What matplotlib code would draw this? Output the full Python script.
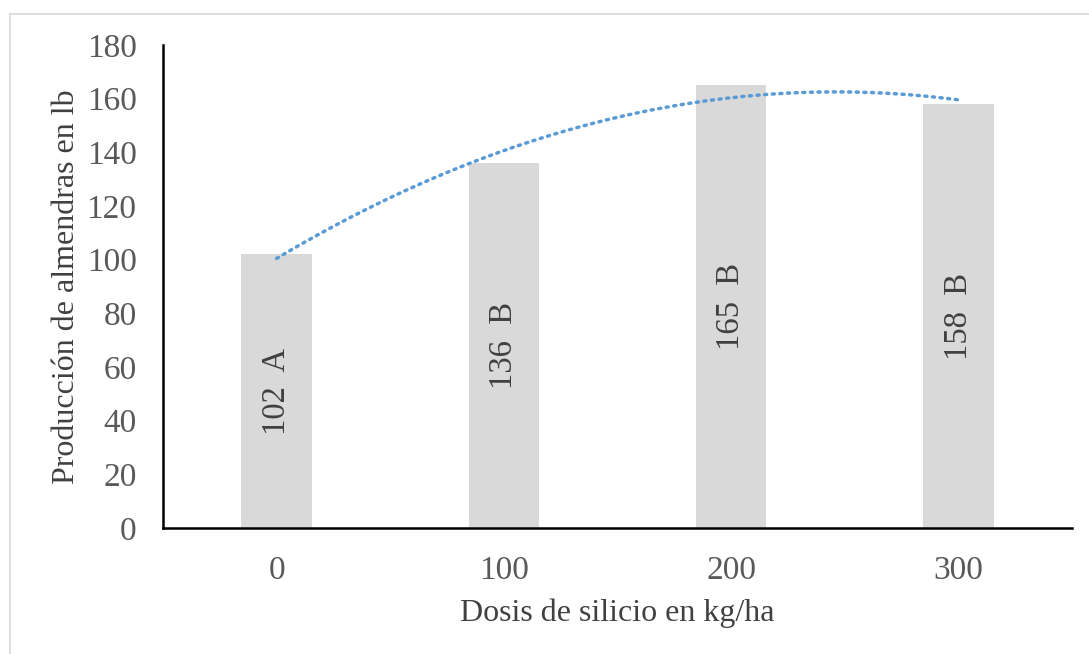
import numpy as np
import matplotlib
matplotlib.use("Agg")
import matplotlib.pyplot as plt
from matplotlib.lines import Line2D

plt.rcParams['font.family'] = ['Liberation Serif', 'DejaVu Serif']

dosis = ['0', '100', '200', '300']  # kg/ha
produccion = [102, 136, 165, 158]  # lb
letras = ['A', 'B', 'B', 'B']

fig = plt.figure(figsize=(10.89, 6.54), dpi=100)
ax = fig.add_axes([163/1089, 1 - 528/654, (1072-163)/1089, (528-45)/654])

x = np.arange(len(dosis))
ax.bar(x, produccion, width=0.31, color='#D9D9D9', zorder=2)

# polynomial (order 2) trendline, like excel
coef = np.polyfit(x, produccion, 2)
xs = np.linspace(0, 3, 200)
ax.plot(xs, np.polyval(coef, xs), color='#5B9BD5', lw=2.5, ls=(0, (0.6, 1.6)),
        dash_capstyle='round', zorder=3)

for xi, v, l in zip(x, produccion, letras):
    ax.text(xi, v / 2, f'{v}  {l}', rotation=90, ha='center', va='center',
            fontsize=23.5, color='#404040', zorder=4)

ax.set_xlim(-0.5, 3.5)
ax.set_ylim(0, 180)
ax.set_yticks(range(0, 181, 20))
ax.set_xticks(x)
ax.set_xticklabels(dosis)
ax.tick_params(length=0, labelsize=24, labelcolor='#595959')
ax.tick_params(axis='x', pad=20)
ax.tick_params(axis='y', pad=19)
for s in ['top', 'right']:
    ax.spines[s].set_visible(False)
for s in ['left', 'bottom']:
    ax.spines[s].set_linewidth(1.8)
    ax.spines[s].set_color('black')

ax.set_xlabel('Dosis de silicio en kg/ha', fontsize=23, color='#404040')
ax.set_ylabel('Producción de almendras en lb', fontsize=23, color='#404040')
ax.xaxis.set_label_coords(0.5, -(599 - 528) / 483)
ax.yaxis.set_label_coords(-(163 - 81) / 909, 0.5)

# chart area border (partly cut off)
fig.add_artist(Line2D([10/1089, 10/1089], [0, 1 - 14/654], color='#D9D9D9', lw=1.2))
fig.add_artist(Line2D([10/1089, 1], [1 - 14/654, 1 - 14/654], color='#D9D9D9', lw=1.2))

fig.savefig('out.png', dpi=100, facecolor='white')
